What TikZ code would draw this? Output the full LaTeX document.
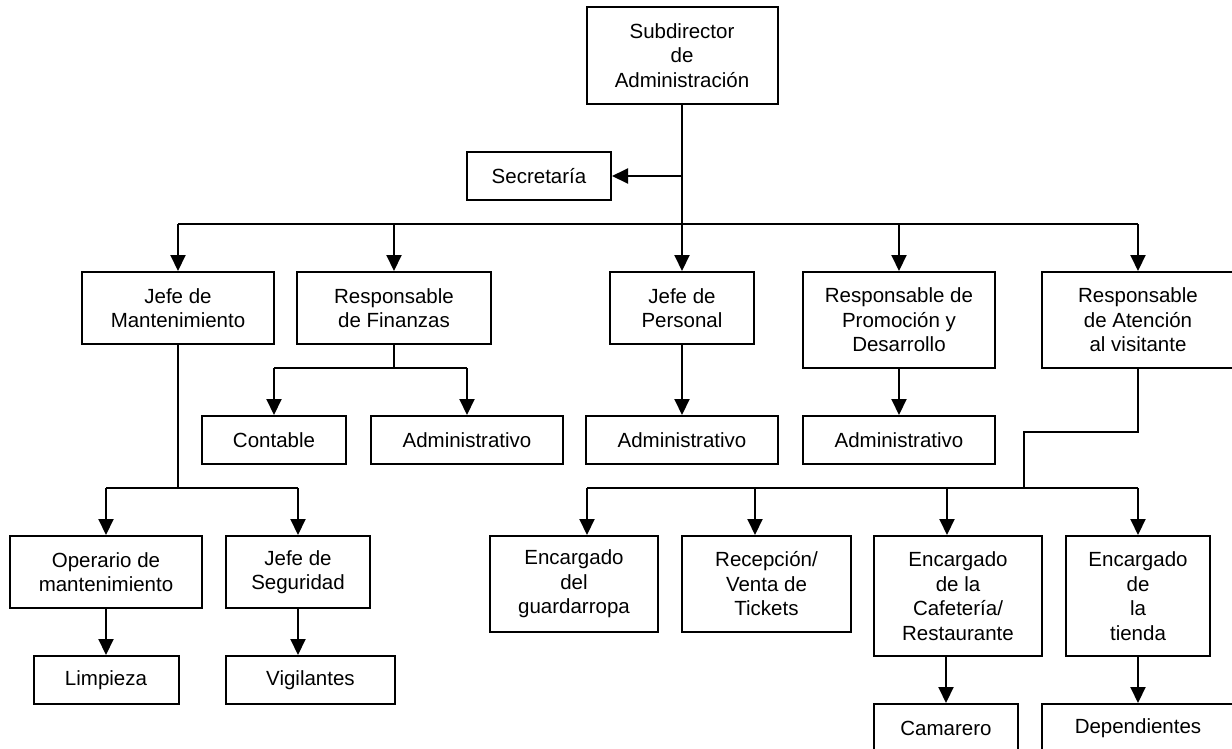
\documentclass[tikz,border=0pt]{standalone}
\usepackage{fontspec}
\setmainfont{Liberation Sans}
\usetikzlibrary{arrows.meta}
\newcommand{\boxfont}{\fontsize{20.5}{24.5}\selectfont}
\begin{document}
\begin{tikzpicture}[x=1pt,y=-1pt,
  orgbox/.style={draw, line width=2pt, inner sep=0pt, align=center, font=\boxfont},
  link/.style={line width=2pt},
  arr/.style={line width=2pt, -{Triangle[length=16pt,width=15pt]}}]
\useasboundingbox (0,0) rectangle (1232,748);
\clip (0,0) rectangle (1232,748);
\fill[white] (0,0) rectangle (1232,748);

% top level
\node[orgbox, minimum width=191, minimum height=97] (sub) at (682,55.5) {Subdirector\\de\\Administración};
\node[orgbox, minimum width=144, minimum height=48] (sec) at (539,176) {Secretaría};

% second level
\node[orgbox, minimum width=192, minimum height=72] (mant) at (178,308) {Jefe de\\Mantenimiento};
\node[orgbox, minimum width=194, minimum height=72] (fin) at (394,308) {Responsable\\de Finanzas};
\node[orgbox, minimum width=144, minimum height=72] (pers) at (682,308) {Jefe de\\Personal};
\node[orgbox, minimum width=192, minimum height=96] (prom) at (899,320) {Responsable de\\Promoción y\\Desarrollo};
\node[orgbox, minimum width=192, minimum height=96] (aten) at (1138,320) {Responsable\\de Atención\\al visitante};

% third level
\node[orgbox, minimum width=144, minimum height=48] (cont) at (274,440) {Contable};
\node[orgbox, minimum width=192, minimum height=48] (adm1) at (467,440) {Administrativo};
\node[orgbox, minimum width=192, minimum height=48] (adm2) at (682,440) {Administrativo};
\node[orgbox, minimum width=192, minimum height=48] (adm3) at (899,440) {Administrativo};

% maintenance branch
\node[orgbox, minimum width=192, minimum height=72] (oper) at (106,572) {Operario de\\mantenimiento};
\node[orgbox, minimum width=144, minimum height=72] (seg) at (298,572) {Jefe de\\Seguridad};
\node[orgbox, minimum width=145, minimum height=48] (limp) at (106,680) {Limpieza};
\node[orgbox, minimum width=169, minimum height=48] (vig) at (310.5,680) {Vigilantes};

% visitor branch
\node[orgbox, minimum width=168, minimum height=96] (guard) at (574,584) {Encargado\\del\\guardarropa};
\node[orgbox, minimum width=169, minimum height=96] (recep) at (766.5,584) {Recepción/\\Venta de\\Tickets};
\node[orgbox, minimum width=168, minimum height=120] (cafe) at (958,596) {Encargado\\de la\\Cafetería/\\Restaurante};
\node[orgbox, minimum width=144, minimum height=120] (tienda) at (1138,596) {Encargado\\de\\la\\tienda};
\node[orgbox, minimum width=144, minimum height=48] (cam) at (946,728) {Camarero};
\node[orgbox, minimum width=192, minimum height=48] (dep) at (1138,728) {Dependientes};

% junction points
\coordinate (secj) at (682,176);
\coordinate (bus) at (682,224);
\coordinate (finbus) at (394,368);
\coordinate (mantbus) at (178,488);
\coordinate (atj1) at (1138,432);
\coordinate (atj2) at (1024,432);
\coordinate (atbus) at (1024,488);
\coordinate (gA) at (587,488);
\coordinate (rA) at (755,488);
\coordinate (cA) at (947,488);
\coordinate (tA) at (1138,488);

% main trunk
\draw[arr] (sub.south) -- (pers.north);
\draw[arr] (secj) -- (sec.east);
\draw[link] (bus -| mant.north) -- (bus -| aten.north);
\draw[arr] (bus -| mant.north) -- (mant.north);
\draw[arr] (bus -| fin.north) -- (fin.north);
\draw[arr] (bus -| prom.north) -- (prom.north);
\draw[arr] (bus -| aten.north) -- (aten.north);

% finance
\draw[link] (fin.south) -- (finbus);
\draw[link] (finbus -| cont.north) -- (finbus -| adm1.north);
\draw[arr] (finbus -| cont.north) -- (cont.north);
\draw[arr] (finbus -| adm1.north) -- (adm1.north);

% personnel and promotion
\draw[arr] (pers.south) -- (adm2.north);
\draw[arr] (prom.south) -- (adm3.north);

% maintenance
\draw[link] (mant.south) -- (mantbus);
\draw[link] (mantbus -| oper.north) -- (mantbus -| seg.north);
\draw[arr] (mantbus -| oper.north) -- (oper.north);
\draw[arr] (mantbus -| seg.north) -- (seg.north);
\draw[arr] (oper.south) -- (limp.north);
\draw[arr] (seg.south) -- (seg.south |- vig.north);

% visitor attention
\draw[link] (aten.south) -- (atj1) -- (atj2) -- (atbus);
\draw[link] (gA) -- (tA);
\draw[arr] (gA) -- (gA |- guard.north);
\draw[arr] (rA) -- (rA |- recep.north);
\draw[arr] (cA) -- (cA |- cafe.north);
\draw[arr] (tA) -- (tienda.north);
\draw[arr] (cafe.south -| cam.north) -- (cam.north);
\draw[arr] (tienda.south) -- (dep.north);
\end{tikzpicture}
\end{document}
